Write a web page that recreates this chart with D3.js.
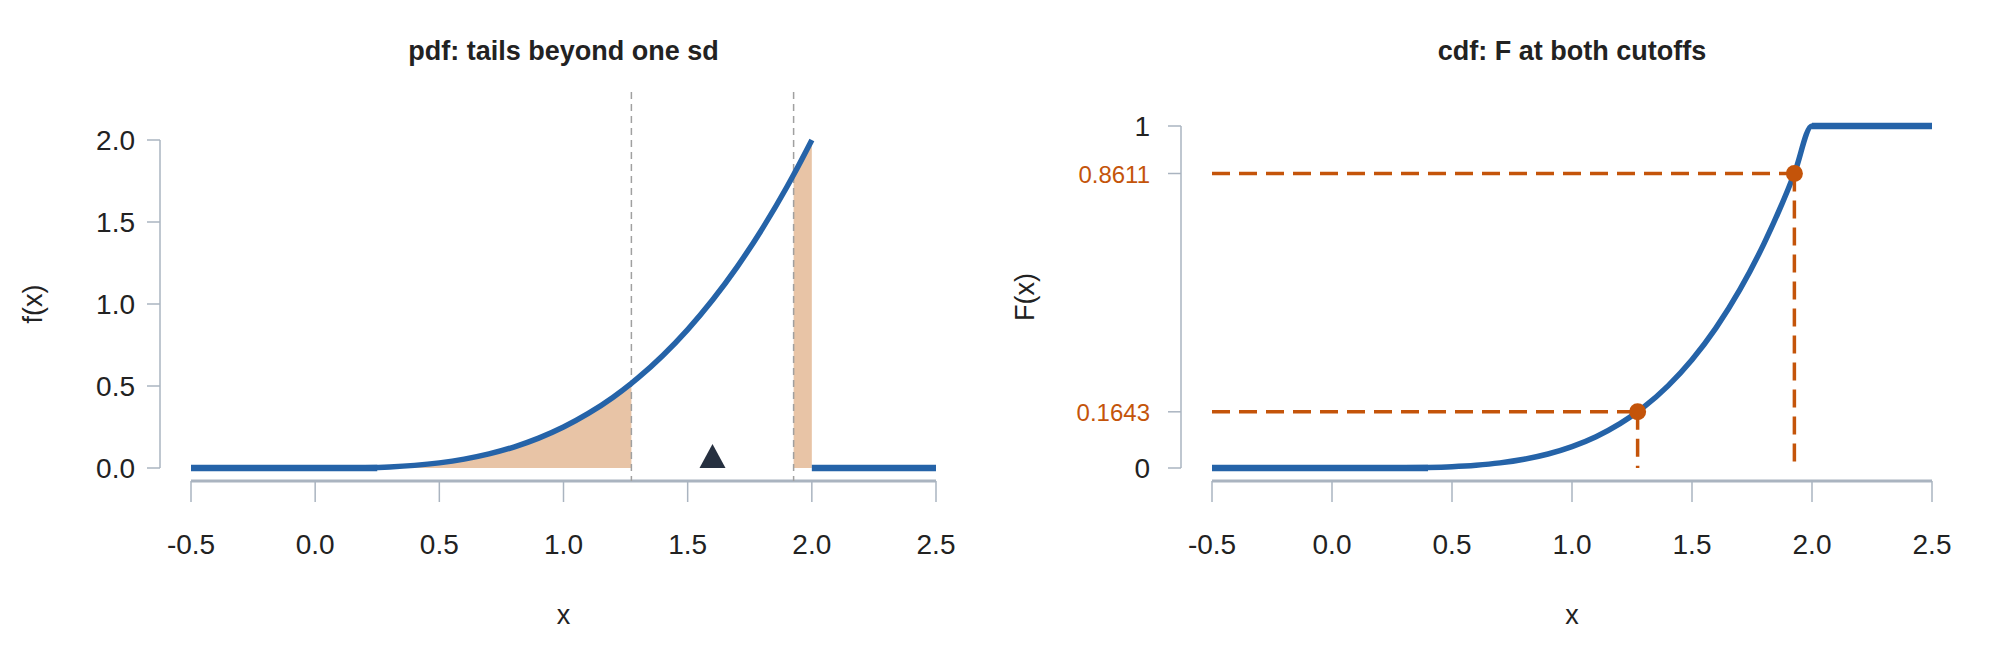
<!DOCTYPE html>
<html><head><meta charset="utf-8">
<script src="https://cdn.jsdelivr.net/npm/d3@7"></script>
<style>body{margin:0;background:#fff}svg{font-family:"Liberation Sans",Arial,sans-serif}</style>
</head><body><svg id="c" width="1996" height="652"></svg>
<script>
const xs = [0,0.1,0.2,0.3,0.4,0.5,0.6,0.7,0.8,0.9,1.0,1.1,1.2,1.2734,1.3,1.4,1.5,1.6,1.7,1.8,1.9,1.9266,2.0];
const pdfVals = [0,0.00025,0.002,0.00675,0.016,0.03125,0.054,0.08575,0.128,0.18225,0.25,0.33275,0.432,0.5163,0.54925,0.686,0.84375,1.024,1.22825,1.458,1.71475,1.788,2.0];
const cdfVals = [0,0.0000063,0.0001,0.00051,0.0016,0.0039,0.0081,0.015,0.0256,0.041,0.0625,0.0915,0.1296,0.1643,0.1785,0.2401,0.3164,0.4096,0.522,0.6561,0.8145,0.8611,1.0];
const cutoffs = [1.2734, 1.9266];
const cutoffF = [0.1643, 0.8611];
const meanX = 1.6;
const xTicks = [-0.5,0,0.5,1.0,1.5,2.0,2.5];
const pdfTicks = [0,0.5,1.0,1.5,2.0];

const svg = d3.select("#c");
const blue="#2563a8", fillC="#e8c4a6", orange="#c4540a", grid="#aab4c0", dark="#263040";
const pts = xs.map((x,i)=>({x, f:pdfVals[i], F:cdfVals[i]}));
const fmt1 = t => t.toFixed(1);

function panel(o){
  const x = d3.scaleLinear().domain([-0.5,2.5]).range(o.xr);
  const y = d3.scaleLinear().domain(o.yd).range([468,o.yTop]);
  const g = svg.append("g");
  g.append("line").attr("x1",o.xr[0]).attr("x2",o.xr[1]).attr("y1",481).attr("y2",481).attr("stroke",grid).attr("stroke-width",3);
  xTicks.forEach(t=>{
    g.append("line").attr("x1",x(t)).attr("x2",x(t)).attr("y1",481).attr("y2",502).attr("stroke",grid).attr("stroke-width",1.5);
    g.append("text").attr("x",x(t)).attr("y",554).attr("text-anchor","middle").attr("font-size",28).attr("fill","#222").text(fmt1(t));
  });
  g.append("text").attr("x",(o.xr[0]+o.xr[1])/2).attr("y",624).attr("text-anchor","middle").attr("font-size",27).attr("fill","#222").text("x");
  g.append("line").attr("x1",o.yAxX).attr("x2",o.yAxX).attr("y1",o.yTop).attr("y2",468).attr("stroke",grid).attr("stroke-width",1.5);
  g.append("text").attr("x",(o.xr[0]+o.xr[1])/2).attr("y",60).attr("text-anchor","middle").attr("font-size",27).attr("font-weight","bold").attr("fill","#222").text(o.title);
  g.append("text").attr("transform",`translate(${o.ylx},${(o.yTop+468)/2}) rotate(-90)`).attr("text-anchor","middle").attr("font-size",27).attr("fill","#222").text(o.ylab);
  return {g,x,y};
}

{
  const {g,x,y} = panel({xr:[191,936], yd:[0,2], yTop:140, yAxX:160, ylx:42, title:"pdf: tails beyond one sd", ylab:"f(x)"});
  pdfTicks.forEach(t=>{
    g.append("line").attr("x1",147).attr("x2",160).attr("y1",y(t)).attr("y2",y(t)).attr("stroke",grid).attr("stroke-width",1.5);
    g.append("text").attr("x",135).attr("y",y(t)+10).attr("text-anchor","end").attr("font-size",28).attr("fill","#222").text(fmt1(t));
  });
  const area = d3.area().x(d=>x(d.x)).y0(y(0)).y1(d=>y(d.f)).curve(d3.curveMonotoneX);
  g.append("path").attr("d",area(pts.filter(d=>d.x<=cutoffs[0]))).attr("fill",fillC);
  g.append("path").attr("d",area(pts.filter(d=>d.x>=cutoffs[1]))).attr("fill",fillC);
  cutoffs.forEach(c=>g.append("line").attr("x1",x(c)).attr("x2",x(c)).attr("y1",92).attr("y2",481).attr("stroke","#a0a0a0").attr("stroke-width",1.5).attr("stroke-dasharray","7,5"));
  const line = d3.line().x(d=>x(d.x)).y(d=>y(d.f)).curve(d3.curveMonotoneX);
  g.append("path").attr("d",line([{x:-0.5,f:0},...pts])).attr("fill","none").attr("stroke",blue).attr("stroke-width",5.5);
  g.append("line").attr("x1",x(-0.5)).attr("x2",x(0.25)).attr("y1",y(0)).attr("y2",y(0)).attr("stroke",blue).attr("stroke-width",6.5);
  g.append("line").attr("x1",x(2)).attr("x2",x(2.5)).attr("y1",y(0)).attr("y2",y(0)).attr("stroke",blue).attr("stroke-width",6.5);
  const mx=x(meanX);
  g.append("path").attr("d",`M${mx},${y(0)-24}L${mx-13},${y(0)}L${mx+13},${y(0)}Z`).attr("fill",dark);
}

{
  const {g,x,y} = panel({xr:[1212,1932], yd:[0,1], yTop:126, yAxX:1181, ylx:1034, title:"cdf: F at both cutoffs", ylab:"F(x)"});
  [0,1].forEach(t=>{
    g.append("line").attr("x1",1168).attr("x2",1181).attr("y1",y(t)).attr("y2",y(t)).attr("stroke",grid).attr("stroke-width",1.5);
    g.append("text").attr("x",1150).attr("y",y(t)+10).attr("text-anchor","end").attr("font-size",28).attr("fill","#222").text(t);
  });
  cutoffF.forEach(t=>{
    g.append("line").attr("x1",1168).attr("x2",1181).attr("y1",y(t)).attr("y2",y(t)).attr("stroke",grid).attr("stroke-width",1.5);
    g.append("text").attr("x",1150).attr("y",y(t)+9).attr("text-anchor","end").attr("font-size",24).attr("fill",orange).text(d3.format(".4f")(t));
  });
  const line = d3.line().x(d=>x(d.x)).y(d=>y(d.F)).curve(d3.curveMonotoneX);
  g.append("path").attr("d",line([{x:-0.5,F:0},...pts,{x:2.5,F:1}])).attr("fill","none").attr("stroke",blue).attr("stroke-width",5.5);
  g.append("line").attr("x1",x(-0.5)).attr("x2",x(0.4)).attr("y1",y(0)).attr("y2",y(0)).attr("stroke",blue).attr("stroke-width",6.5);
  g.append("line").attr("x1",x(2)).attr("x2",x(2.5)).attr("y1",y(1)).attr("y2",y(1)).attr("stroke",blue).attr("stroke-width",6.5);
  cutoffs.forEach((c,i)=>{
    g.append("line").attr("x1",x(-0.5)).attr("x2",x(c)).attr("y1",y(cutoffF[i])).attr("y2",y(cutoffF[i])).attr("stroke",orange).attr("stroke-width",3.5).attr("stroke-dasharray","18,9");
    g.append("line").attr("x1",x(c)).attr("x2",x(c)).attr("y1",y(cutoffF[i])).attr("y2",y(0)).attr("stroke",orange).attr("stroke-width",3.5).attr("stroke-dasharray","18,9");
    g.append("circle").attr("cx",x(c)).attr("cy",y(cutoffF[i])).attr("r",8.5).attr("fill",orange);
  });
}
</script></body></html>
